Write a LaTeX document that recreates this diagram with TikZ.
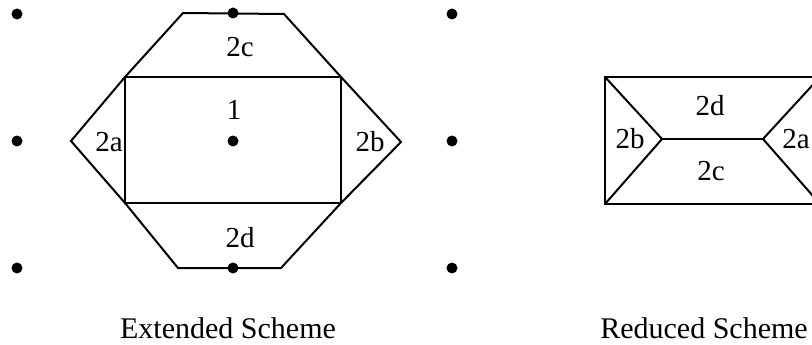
\documentclass[tikz,border=0pt]{standalone}
\usepackage{fontspec}
\setmainfont{Liberation Serif}
\begin{document}
\begin{tikzpicture}[x=1pt,y=-1pt,
  edge/.style={line width=2pt,line join=miter},
  dotmark/.style={fill=black},
  lbl/.style={anchor=base,inner sep=0pt,font=\fontsize{29}{34}\selectfont},
  captext/.style={anchor=base,inner sep=0pt,font=\fontsize{30}{36}\selectfont}]
\useasboundingbox (0,0) rectangle (812,345);
\clip (0,0) rectangle (812,345);
% left figure vertices
\coordinate (A) at (125,77);
\coordinate (B) at (341,77);
\coordinate (C) at (341,203);
\coordinate (D) at (125,203);
\coordinate (T1) at (183,13);
\coordinate (T2) at (284,14);
\coordinate (L) at (71,141);
\coordinate (R) at (401,142);
\coordinate (B1) at (178,268);
\coordinate (B2) at (281,268);
\draw[edge] (A) rectangle (C);
\draw[edge] (A) -- (T1) -- (T2) -- (B);
\draw[edge] (A) -- (L) -- (D);
\draw[edge] (B) -- (R) -- (C);
\draw[edge] (D) -- (B1) -- (B2) -- (C);
% dots
\foreach \p in {(17,14),(17,141),(17,268),(233,13),(233,141),(233,268),(452,14),(452,141),(452,268)}
  \fill[dotmark] \p circle (5.5);
% labels left
\node[lbl] (l2c) at (240,57) {2c};
\node[lbl] (l1) at (234,119) {1};
\node[lbl] (l2a) at (109,151) {2a};
\node[lbl] (l2b) at (370,151) {2b};
\node[lbl] (l2d) at (240,247) {2d};
\node[captext] (capE) at (228,338) {Extended Scheme};
% right figure
\coordinate (P) at (605,77);
\coordinate (Q) at (820,204);
\coordinate (M1) at (662,139);
\coordinate (M2) at (763,139);
\draw[edge] (P) rectangle (Q);
\draw[edge] (P) -- (M1) -- (605,204);
\draw[edge] (820,77) -- (M2) -- (Q);
\draw[edge] (M1) -- (M2);
\node[lbl] (r2d) at (710,116) {2d};
\node[lbl] (r2c) at (711,180) {2c};
\node[lbl] (r2b) at (630,148) {2b};
\node[lbl] (r2a) at (796,148) {2a};
\node[captext] (capR) at (704,338) {Reduced Scheme};
\end{tikzpicture}
\end{document}
